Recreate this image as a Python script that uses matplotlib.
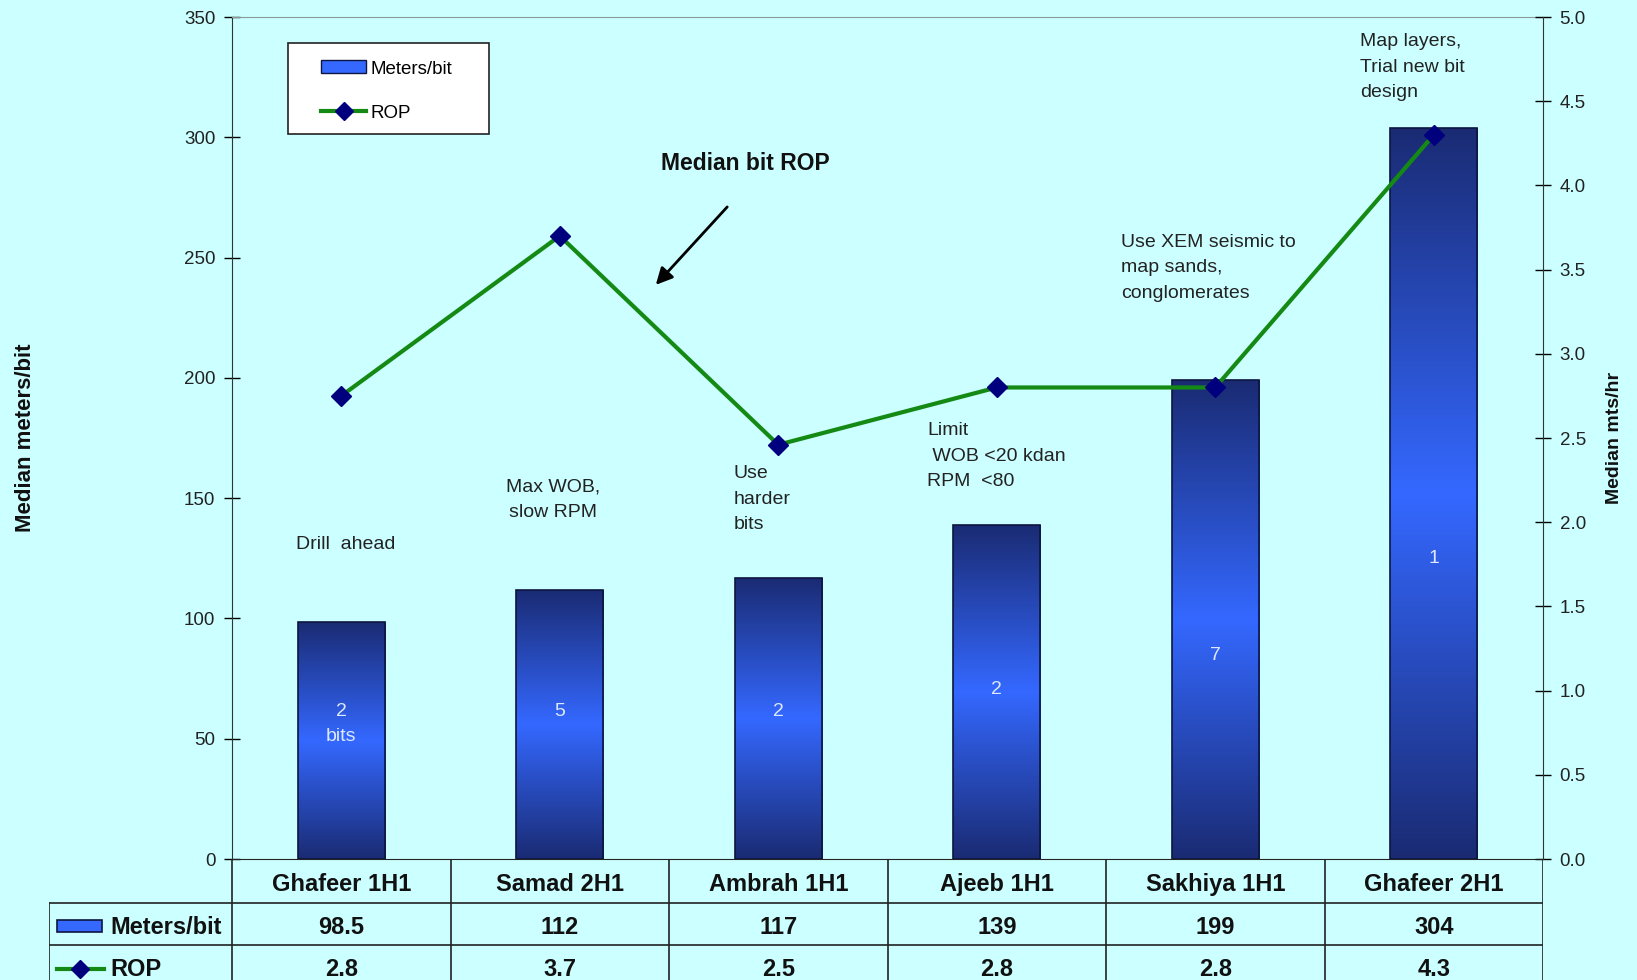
import numpy as np
import matplotlib
matplotlib.use('Agg')
import matplotlib.pyplot as plt
from matplotlib.colors import LinearSegmentedColormap
from matplotlib.patches import Rectangle
from matplotlib.lines import Line2D

plt.rcParams['font.family'] = ['Liberation Sans', 'DejaVu Sans']

# data
wells = ['Ghafeer 1H1', 'Samad 2H1', 'Ambrah 1H1', 'Ajeeb 1H1', 'Sakhiya 1H1', 'Ghafeer 2H1']
meters_per_bit = [98.5, 112, 117, 139, 199, 304]
rop = [2.75, 3.7, 2.46, 2.8, 2.8, 4.3]
bits_used = ['2\nbits', '5', '2', '2', '7', '1']
notes = ['Drill  ahead', 'Max WOB,\nslow RPM', 'Use\nharder\nbits',
         'Limit\n WOB <20 kdan\nRPM  <80',
         'Use XEM seismic to\nmap sands,\nconglomerates',
         'Map layers,\nTrial new bit\ndesign']

BG = '#ccffff'
DARK = '#1a2b73'
BRIGHT = '#3468ff'
GREEN = '#148a14'
NAVY = '#00007f'
TXT = '#222222'

W, H = 1637, 980
fig = plt.figure(figsize=(W / 100, H / 100), dpi=100, facecolor=BG)

# pixel layout of the plot area
px_l, px_r, px_t, px_b = 232, 1543, 17, 859
ax = fig.add_axes([px_l / W, 1 - px_b / H, (px_r - px_l) / W, (px_b - px_t) / H])
ax.set_facecolor(BG)
x = np.arange(len(wells))
bw = 0.4

cmap = LinearSegmentedColormap.from_list('bar', [DARK, BRIGHT, DARK])
grad = np.linspace(0, 1, 256).reshape(-1, 1)
bars = ax.bar(x, meters_per_bit, bw, facecolor='none', edgecolor='#0d1640', lw=1.2, zorder=3)
for b in bars:
    im = ax.imshow(grad, cmap=cmap, aspect='auto', zorder=2,
                   extent=[b.get_x(), b.get_x() + b.get_width(), 0, b.get_height()])
    im.set_clip_path(b)

ax.set_xlim(-0.5, len(wells) - 0.5)
ax.set_ylim(0, 350)
ax.set_yticks(np.arange(0, 351, 50))
ax.set_xticks([])
ax.tick_params(axis='y', direction='inout', length=12, width=1, labelsize=13.5,
               labelcolor=TXT, pad=6)
ax.spines['top'].set_color('#8a9a9a')
ax.spines['right'].set_visible(False)
ax.spines['left'].set_color('#333333')
ax.spines['bottom'].set_color('#333333')
ax.set_ylabel('Median meters/bit', fontsize=16, fontweight='bold', color='#111111')
ax.yaxis.set_label_coords((36 - px_l) / (px_r - px_l), 0.5)

# number of bits inside bars
bits_y = [56, 61.5, 61.5, 70.5, 84.5, 125]
for xi, lab, yy in zip(x, bits_used, bits_y):
    ax.text(xi, yy, lab, ha='center', va='center', fontsize=14, color='#dde8ff',
            linespacing=1.6, zorder=4)

# ROP on secondary axis
ax2 = ax.twinx()
ax2.plot(x, rop, color=GREEN, lw=3, marker='D', markersize=10,
         markerfacecolor=NAVY, markeredgecolor=NAVY, zorder=5)
ax2.set_ylim(0, 5)
ax2.set_yticks(np.arange(0, 5.01, 0.5))
ax2.set_yticklabels(['%.1f' % v for v in np.arange(0, 5.01, 0.5)])
ax2.tick_params(axis='y', direction='inout', length=12, width=1, labelsize=13.5,
                labelcolor=TXT, pad=6)
for s in ['top', 'left', 'bottom']:
    ax2.spines[s].set_visible(False)
ax2.spines['right'].set_color('#333333')
ax2.set_ylabel('Median mts/hr', fontsize=14, fontweight='bold', color='#111111')
ax2.yaxis.set_label_coords((1606 - px_l) / (px_r - px_l), 0.5)

# notes
note_pos = [(-0.207, 130.9, 'left'), (0.969, 149.2, 'center'), (1.797, 149.6, 'left'),
            (2.681, 167.5, 'left'), (3.569, 245.7, 'left'), (4.662, 329.2, 'left')]
for (nx, ny, ha), txt in zip(note_pos, notes):
    ax.text(nx, ny, txt, ha=ha, va='center', multialignment=ha, fontsize=14,
            color=TXT, linespacing=1.65, zorder=6)
ax.annotate('', xy=(1.431, 237.8), xytext=(1.775, 271.9),
            arrowprops=dict(arrowstyle='-|>', color='black', lw=2, mutation_scale=25), zorder=6)
ax.text(1.848, 288.9, 'Median bit ROP', ha='center', va='center', fontsize=16.5,
        fontweight='bold', color='#111111', zorder=6)

# legend box
fig.add_artist(Rectangle((288 / W, 1 - 134 / H), (489 - 288) / W, (134 - 43) / H,
                         transform=fig.transFigure, facecolor='white', edgecolor='#222222', lw=1.2))
handles = [Rectangle((0, 0), 1, 1, facecolor=BRIGHT, edgecolor='#0d1640'),
           Line2D([], [], color=GREEN, lw=3, marker='D', markersize=9,
                  markerfacecolor=NAVY, markeredgecolor=NAVY)]
leg = fig.legend(handles, ['Meters/bit', 'ROP'], loc='upper left',
                 bbox_to_anchor=(312 / W, 1 - 51 / H), frameon=False, fontsize=13.5,
                 handlelength=2.4, handletextpad=0.2, labelspacing=1.45, borderpad=0)

# data table under the plot
tab_l = 49
unit = (px_r - px_l) / len(wells)
rows = [859, 903, 945, 987]
tax = fig.add_axes([tab_l / W, 1 - rows[-1] / H, (px_r - tab_l) / W, (rows[-1] - rows[0]) / H])
tax.set_xlim(-0.5 - (px_l - tab_l) / unit, len(wells) - 0.5)
tax.set_ylim(rows[-1], rows[0])
tax.axis('off')
lc = '#222222'
xl, xr = tax.get_xlim()
tax.plot([-0.5, xr], [rows[0], rows[0]], color=lc, lw=1.2)
for r in rows[1:3]:
    tax.plot([xl, xr], [r, r], color=lc, lw=1.2)
for k in range(len(wells) + 1):
    tax.plot([k - 0.5, k - 0.5], [rows[0], rows[-1]], color=lc, lw=1.2)
tax.plot([xl, xl], [rows[1], rows[-1]], color=lc, lw=1.2)

ymid = [(rows[i] + rows[i + 1]) / 2 + 3 for i in range(3)]
tkw = dict(va='center', fontsize=17, fontweight='bold', color='#111111')
for xi, name, m, r in zip(x, wells, meters_per_bit, rop):
    tax.text(xi, ymid[0], name, ha='center', **tkw)
    tax.text(xi, ymid[1], '%g' % m, ha='center', **tkw)
    tax.text(xi, ymid[2], '%.1f' % r, ha='center', **tkw)

def tx(px):
    return (px - px_l) / unit - 0.5

tax.add_patch(Rectangle((tx(57), ymid[1] - 7), tx(102) - tx(57), 12,
                        facecolor=BRIGHT, edgecolor='#0d1640', lw=1.2))
tax.plot([tx(57), tx(104)], [ymid[2], ymid[2]], color=GREEN, lw=3)
tax.plot([tx(80)], [ymid[2]], marker='D', markersize=9, color=NAVY)
tax.text(tx(110), ymid[1], 'Meters/bit', ha='left', **tkw)
tax.text(tx(110), ymid[2], 'ROP', ha='left', **tkw)

fig.savefig('out.png', dpi=100, facecolor=BG)
